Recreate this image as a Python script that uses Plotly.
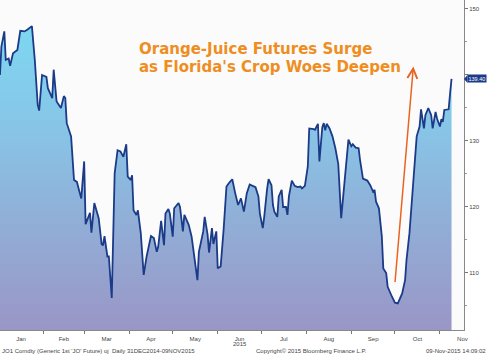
import plotly.graph_objects as go

dates = [
    "2015-01-02", "2015-01-03", "2015-01-05", "2015-01-06", "2015-01-08", "2015-01-09",
    "2015-01-11", "2015-01-14", "2015-01-16", "2015-01-19", "2015-01-21", "2015-01-24",
    "2015-01-26", "2015-01-28", "2015-01-29", "2015-01-31",
    "2015-02-03", "2015-02-04", "2015-02-07", "2015-02-08", "2015-02-10", "2015-02-13",
    "2015-02-15", "2015-02-16", "2015-02-17", "2015-02-20", "2015-02-22", "2015-02-24",
    "2015-02-26", "2015-02-27",
    "2015-03-01", "2015-03-02", "2015-03-05", "2015-03-06", "2015-03-08", "2015-03-11",
    "2015-03-13", "2015-03-14", "2015-03-15", "2015-03-17", "2015-03-18", "2015-03-20",
    "2015-03-22", "2015-03-24", "2015-03-26", "2015-03-28", "2015-03-30", "2015-03-31",
    "2015-04-02", "2015-04-03", "2015-04-04", "2015-04-06", "2015-04-07", "2015-04-09",
    "2015-04-11", "2015-04-13", "2015-04-16", "2015-04-18", "2015-04-20", "2015-04-21",
    "2015-04-23", "2015-04-25", "2015-04-26", "2015-04-28", "2015-04-29",
    "2015-05-01", "2015-05-02", "2015-05-05", "2015-05-06", "2015-05-08", "2015-05-09",
    "2015-05-11", "2015-05-12", "2015-05-14", "2015-05-16", "2015-05-18", "2015-05-19",
    "2015-05-22", "2015-05-23", "2015-05-25", "2015-05-26", "2015-05-28", "2015-05-29",
    "2015-05-31",
    "2015-06-01", "2015-06-03", "2015-06-05", "2015-06-07", "2015-06-09", "2015-06-11",
    "2015-06-13", "2015-06-15", "2015-06-17", "2015-06-19", "2015-06-21", "2015-06-23",
    "2015-06-25", "2015-06-27", "2015-06-29", "2015-06-30",
    "2015-07-02", "2015-07-03", "2015-07-05", "2015-07-06", "2015-07-08", "2015-07-09",
    "2015-07-10", "2015-07-12", "2015-07-13", "2015-07-15", "2015-07-16", "2015-07-18",
    "2015-07-19", "2015-07-20", "2015-07-22", "2015-07-24", "2015-07-26", "2015-07-28",
    "2015-07-29", "2015-07-31",
    "2015-08-02", "2015-08-03", "2015-08-06", "2015-08-07", "2015-08-09", "2015-08-10",
    "2015-08-12", "2015-08-13", "2015-08-14", "2015-08-15", "2015-08-17", "2015-08-19",
    "2015-08-21", "2015-08-23", "2015-08-25", "2015-08-28", "2015-08-30",
    "2015-09-01", "2015-09-02", "2015-09-04", "2015-09-06", "2015-09-07", "2015-09-09",
    "2015-09-12", "2015-09-14", "2015-09-16", "2015-09-17", "2015-09-18", "2015-09-20",
    "2015-09-22", "2015-09-23", "2015-09-25", "2015-09-26", "2015-09-29",
    "2015-10-01", "2015-10-03", "2015-10-06", "2015-10-08", "2015-10-09", "2015-10-11",
    "2015-10-13", "2015-10-15", "2015-10-16", "2015-10-18", "2015-10-19", "2015-10-21",
    "2015-10-22", "2015-10-24", "2015-10-26", "2015-10-27", "2015-10-29", "2015-10-30",
    "2015-11-01", "2015-11-02", "2015-11-03", "2015-11-04", "2015-11-06", "2015-11-07",
    "2015-11-08", "2015-11-09",
]

prices = [
    140.0, 144.3, 146.6, 142.3, 142.5, 141.4,
    143.3, 143.8, 146.7, 146.6, 146.9, 147.4,
    142.3, 135.5, 134.6, 140.0,
    139.7, 138.0, 136.5, 140.8, 136.0, 135.0,
    136.8, 136.5, 132.7, 130.7, 124.1, 123.8,
    122.1, 121.3,
    126.9, 117.4, 119.1, 116.1, 120.6, 118.3,
    114.4, 114.2, 115.6, 112.5, 112.5, 106.2,
    125.1, 128.6, 128.4, 127.6, 129.5, 124.6,
    124.1, 124.8, 119.5, 118.8, 119.5, 116.0,
    109.7, 112.5, 115.6, 115.3, 113.2, 114.0,
    117.9, 114.2, 119.0, 119.7, 119.0,
    115.5, 119.8, 120.6, 120.0, 116.3, 118.8,
    117.6, 117.3, 115.5, 112.5, 108.9, 113.2,
    116.3, 118.5, 115.8, 113.1, 116.8, 114.4,
    116.3,
    110.7, 111.0, 116.5, 123.1, 123.7, 124.2,
    122.1, 120.3, 121.3, 119.3, 122.1, 123.4,
    123.2, 123.0, 121.6, 119.0,
    116.8, 118.5, 122.8, 124.2, 123.3, 120.3,
    119.3, 118.5, 121.6, 122.6, 120.0, 120.0,
    118.8, 121.6, 124.0, 123.2, 123.0, 123.1,
    122.8, 123.2,
    126.1, 131.9, 131.8, 131.7, 132.6, 126.9,
    132.1, 132.7, 131.6, 132.6, 131.9, 130.7,
    128.9, 126.5, 118.3, 125.6, 130.2,
    129.2, 129.5, 129.0, 128.9, 127.1, 124.3,
    124.0, 123.3, 122.3, 122.6, 120.8, 119.8,
    115.5, 110.7, 110.0, 107.9, 106.4,
    105.5, 105.4, 106.9, 108.9, 112.0, 116.0,
    121.6, 127.6, 130.7, 132.2, 134.8, 131.9,
    133.9, 135.0, 133.9, 131.9, 134.4, 133.4,
    132.2, 133.3, 132.9, 134.7, 134.8, 134.8,
    137.2, 139.4,
]

y_ticks = [110, 120, 130, 140, 150]
y_tick_labels = ["110", "120", "130", "", "150"]  # 140 is hidden behind the last-value tag
last_label = "139.40"
title_lines = ["Orange-Juice Futures Surge", "as Florida's Crop Woes Deepen"]
arrow_start = ("2015-10-01", 108.4)
arrow_end = ("2015-10-13 17:00", 141.3)

LINE = "#1b3a88"
ORANGE = "#EE8E1F"
SMALL = dict(family="Liberation Sans, Arial, sans-serif", size=6, color="#444444")

fig = go.Figure()
fig.add_trace(go.Scatter(
    x=dates, y=prices, mode="lines",
    line=dict(color=LINE, width=1.8),
    fill="tozeroy",
    fillgradient=dict(
        type="vertical", start=101.36, stop=151.36,
        colorscale=[[0.0, "#9a96c6"], [0.35, "#90b0d8"], [0.6, "#88c4e6"], [1.0, "#7adcf4"]],
    ),
    hoverinfo="skip", showlegend=False,
))

fig.update_layout(
    width=488, height=355,
    margin=dict(l=0, r=24, t=0, b=25),
    paper_bgcolor="white", plot_bgcolor="#fbfbfb",
    showlegend=False,
    xaxis=dict(
        type="date",
        range=["2015-01-02 00:48", "2015-11-17 14:00"],
        dtick="M1", tick0="2015-01-01",
        ticklabelmode="period", tickformat="%b",
        ticks="outside", ticklen=3, tickcolor="#777777",
        showline=True, linecolor="#888888", linewidth=1,
        showgrid=False, zeroline=False,
        tickfont=SMALL,
    ),
    yaxis=dict(
        side="right",
        range=[101.36, 151.36],
        tickvals=y_ticks, ticktext=y_tick_labels,
        ticks="outside", ticklen=3, tickcolor="#777777",
        minor=dict(dtick=5, ticks="outside", ticklen=2, tickcolor="#999999", showgrid=False),
        showline=True, linecolor="#888888", linewidth=1,
        showgrid=False, zeroline=False,
        tickfont=SMALL,
    ),
)

# headline
fig.add_annotation(xref="paper", yref="paper", x=137 / 464, y=1 - 49 / 330,
                   xanchor="left", yanchor="middle", showarrow=False,
                   text="<b>%s</b>" % title_lines[0],
                   font=dict(family="DejaVu Sans", size=15, color=ORANGE))
fig.add_annotation(xref="paper", yref="paper", x=137 / 464, y=1 - 67 / 330,
                   xanchor="left", yanchor="middle", showarrow=False,
                   text="<b>%s</b>" % title_lines[1],
                   font=dict(family="DejaVu Sans", size=15, color=ORANGE))

# orange arrow
fig.add_annotation(x=arrow_end[0], y=arrow_end[1], ax=arrow_start[0], ay=arrow_start[1],
                   xref="x", yref="y", axref="x", ayref="y",
                   text="", showarrow=True, arrowhead=5, arrowsize=1.3,
                   arrowwidth=1.5, arrowcolor="#E8641E")

# last value label
fig.add_shape(type="path", xref="paper", yref="y", xsizemode="pixel", ysizemode="pixel",
              xanchor=1, yanchor=prices[-1], path="M 0,0 L 3.5,4 L 3.5,-4 Z",
              fillcolor=LINE, line=dict(width=0))
fig.add_annotation(xref="paper", yref="y", x=1, y=prices[-1], xanchor="left", xshift=2.5,
                   yanchor="middle", showarrow=False, text=last_label,
                   bgcolor=LINE, borderpad=0.5,
                   font=dict(family="Liberation Sans, Arial, sans-serif", size=5.5, color="white"))

# year label under Jun
fig.add_annotation(xref="x", yref="paper", x="2015-06-16", y=0, yshift=-14,
                   yanchor="middle", showarrow=False, text="2015", font=SMALL)

# footer
fig.add_annotation(xref="paper", yref="paper", x=0, y=0, yshift=-21, xanchor="left",
                   yanchor="middle", showarrow=False,
                   text="JO1 Comdty (Generic 1st 'JO' Future) oj  Daily 31DEC2014-09NOV2015",
                   font=SMALL)
fig.add_annotation(xref="paper", yref="paper", x=254 / 464, y=0, yshift=-21, xanchor="left",
                   yanchor="middle", showarrow=False,
                   text="Copyright© 2015 Bloomberg Finance L.P.", font=SMALL)
fig.add_annotation(xref="paper", yref="paper", x=488 / 464, y=0, yshift=-21, xanchor="right",
                   yanchor="middle", showarrow=False,
                   text="09-Nov-2015 14:09:02", font=SMALL)

fig.write_html("out.html", config={"displayModeBar": False},
               post_script="document.body.style.margin='0';")
